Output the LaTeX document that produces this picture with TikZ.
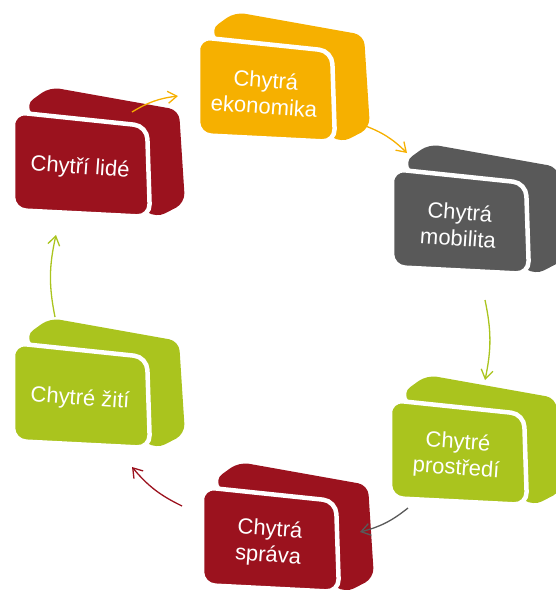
\documentclass[tikz,border=0pt]{standalone}
\usepackage{fontspec}
\setmainfont{Liberation Sans}
\usetikzlibrary{arrows.meta}

\definecolor{vinova}{RGB}{155,18,30}
\definecolor{oranzova}{RGB}{246,176,0}
\definecolor{seda}{RGB}{89,89,89}
\definecolor{zelena}{RGB}{170,196,30}

\tikzstyle{zadek}=[rounded corners=10pt]
\tikzstyle{predek}=[draw=white,line width=4.5pt,rounded corners=13pt]
\tikzstyle{popis}=[text=white,align=center,rotate=-4,font=\fontsize{22}{26}\selectfont]
\tikzstyle{sipka}=[line width=1.3pt,-{Straight Barb[length=9pt,width=12pt]},bend left=12]

% kostka: x, y (levy horni roh cela), barva, jmeno, text
\newcommand{\kostka}[5]{%
	\begin{scope}[shift={(#1,#2)}]
		\fill[#3,zadek] (12,-7) -- (37,-25) -- (166,-2) -- (172,91) -- (143,106) -- (60,50) -- cycle;
		\fill[#3,predek] (0,0) -- (134,14) -- (137,105) -- (0,98) -- cycle;
		\node[popis] (#4) at (67,56) {#5};
	\end{scope}}

\begin{document}
\begin{tikzpicture}[x=1pt,y=-1pt]
		\clip (0,0) rectangle (556,590);
		
		\kostka{13}{112}{vinova}{lide}{Chytří lidé}
		\kostka{198}{37}{oranzova}{ekonomika}{Chytrá\\ekonomika}
		\kostka{392}{169}{seda}{mobilita}{Chytrá\\mobilita}
		\kostka{390}{400}{zelena}{prostredi}{Chytré\\prostředí}
		\kostka{202}{487}{vinova}{sprava}{Chytrá\\správa}
		\kostka{13}{343}{zelena}{ziti}{Chytré žití}
		
		\coordinate (a1) at (132,112);
		\coordinate (b1) at (178,96);
		\coordinate (a2) at (363,125);
		\coordinate (b2) at (407,153);
		\coordinate (a3) at (485,300);
		\coordinate (b3) at (485,380);
		\coordinate (a4) at (408,508);
		\coordinate (b4) at (360,532);
		\coordinate (a5) at (182,506);
		\coordinate (b5) at (132,467);
		\coordinate (a6) at (55,317);
		\coordinate (b6) at (56,235);
		
		\draw [sipka,oranzova] (a1) to (b1);
		\draw [sipka,oranzova] (a2) to (b2);
		\draw [sipka,zelena] (a3) to (b3);
		\draw [sipka,seda] (a4) to (b4);
		\draw [sipka,vinova] (a5) to (b5);
		\draw [sipka,zelena] (a6) to (b6);
	\end{tikzpicture}
\end{document}
